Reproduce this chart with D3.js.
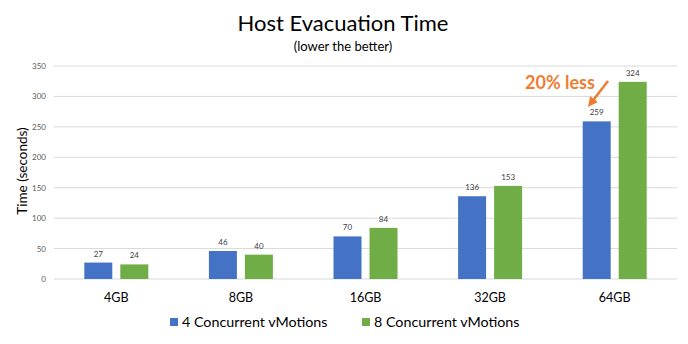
<!DOCTYPE html>
<html><head><meta charset="utf-8">
<script src="https://cdn.jsdelivr.net/npm/d3@7"></script>
<style>body{margin:0;background:#fff}svg{display:block}</style>
</head><body>
<script>
const categories = ["4GB","8GB","16GB","32GB","64GB"];
const series4 = [27,46,70,136,259];
const series8 = [24,40,84,153,324];
const seriesNames = ["4 Concurrent vMotions","8 Concurrent vMotions"];
const yTicks = [0,50,100,150,200,250,300,350];
const colors = ["#4472C4","#70AD47"];

const W=688,H=344;
const font="Lato, 'Open Sans', sans-serif";
const svg=d3.select("body").append("svg").attr("width",W).attr("height",H);
const m={l:54,r:11,t:66,b:65};
const x=d3.scaleBand().domain(categories).range([m.l,W-m.r]);
const y=d3.scaleLinear().domain([0,350]).range([H-m.b,m.t]);
const bw=28, gap=8;

svg.append("g").selectAll("line").data(yTicks).join("line")
 .attr("x1",m.l).attr("x2",W-m.r).attr("y1",d=>y(d)).attr("y2",d=>y(d))
 .attr("stroke","#d9d9d9").attr("stroke-width",1);
svg.append("g").selectAll("text").data(yTicks).join("text")
 .attr("x",m.l-8).attr("y",d=>y(d)+3).attr("text-anchor","end")
 .attr("font-family",font).attr("font-size",8).attr("fill","#595959").text(d=>d);

const data=[series4,series8];
data.forEach((s,i)=>{
  const g=svg.append("g");
  const off = i===0 ? -gap/2-bw : gap/2;
  g.selectAll("rect").data(s).join("rect")
   .attr("x",(d,j)=>x(categories[j])+x.bandwidth()/2+off)
   .attr("y",d=>y(d)).attr("width",bw).attr("height",d=>y(0)-y(d))
   .attr("fill",colors[i]);
  g.selectAll("text").data(s).join("text")
   .attr("x",(d,j)=>x(categories[j])+x.bandwidth()/2+off+bw/2)
   .attr("y",d=>y(d)-6).attr("text-anchor","middle")
   .attr("font-family",font).attr("font-size",8).attr("fill","#404040").text(d=>d);
});

svg.append("g").selectAll("text").data(categories).join("text")
 .attr("x",d=>x(d)+x.bandwidth()/2).attr("y",302).attr("text-anchor","middle")
 .attr("font-family",font).attr("font-size",12.5).attr("fill","#000").text(d=>d);

svg.append("text").attr("transform","translate(27,171) rotate(-90)")
 .attr("text-anchor","middle").attr("font-family",font).attr("font-size",13.5)
 .attr("fill","#000").text("Time (seconds)");

svg.append("text").attr("x",343).attr("y",31).attr("text-anchor","middle")
 .attr("font-family",font).attr("font-size",22).attr("fill","#000").text("Host Evacuation Time");
svg.append("text").attr("x",343).attr("y",51).attr("text-anchor","middle")
 .attr("font-family",font).attr("font-size",13).attr("fill","#000").text("(lower the better)");

const legX=[170,362];
seriesNames.forEach((n,i)=>{
  svg.append("rect").attr("x",legX[i]).attr("y",318).attr("width",8).attr("height",8).attr("fill",colors[i]);
  svg.append("text").attr("x",legX[i]+12).attr("y",327).attr("font-family",font)
   .attr("font-size",14.3).attr("fill","#000").text(n);
});

svg.append("text").attr("x",525).attr("y",89).attr("font-family",font).attr("font-weight","bold")
 .attr("font-size",18).attr("fill","#ED7D31").text("20% less");
svg.append("defs").append("marker").attr("id","ah").attr("viewBox","0 0 10 10")
 .attr("refX",5).attr("refY",5).attr("markerWidth",4).attr("markerHeight",4).attr("orient","auto")
 .append("path").attr("d","M0,0L10,5L0,10z").attr("fill","#ED7D31");
svg.append("line").attr("x1",608).attr("y1",81).attr("x2",591).attr("y2",103)
 .attr("stroke","#ED7D31").attr("stroke-width",2.5).attr("marker-end","url(#ah)");
</script>
</body></html>
